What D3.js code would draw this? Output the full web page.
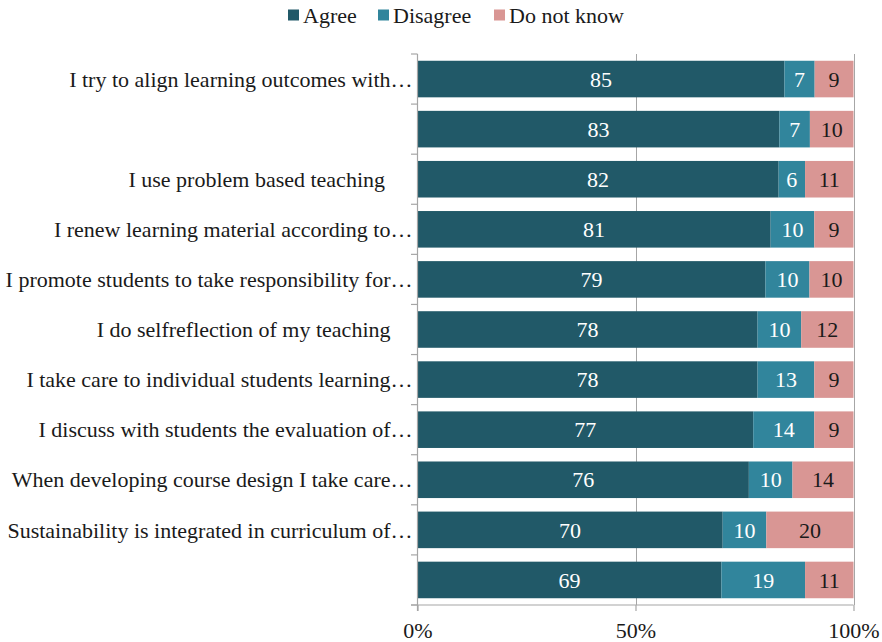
<!DOCTYPE html>
<html>
<head>
<meta charset="utf-8">
<script src="https://cdn.jsdelivr.net/npm/d3@7"></script>
<style>
  html, body { margin: 0; padding: 0; background: #fff; }
  svg { display: block; font-family: "Liberation Serif", "Times New Roman", serif; }
  .cat { white-space: pre; }
</style>
</head>
<body>
<svg id="chart" width="882" height="642"></svg>
<script>
// Survey statements (top to bottom); two rows carry no printed statement
const statements = [
  "I try to align learning outcomes with\u2026",
  "",
  "I use problem based teaching     ",
  "I renew learning material according to\u2026",
  "I promote students to take responsibility for\u2026",
  "I do selfreflection of my teaching    ",
  "I take care to individual students learning\u2026",
  "I discuss with students the evaluation of\u2026",
  "When developing course design I take care\u2026",
  "Sustainability is integrated in curriculum of\u2026",
  ""
];
const agree     = [85, 83, 82, 81, 79, 78, 78, 77, 76, 70, 69];
const disagree  = [ 7,  7,  6, 10, 10, 10, 13, 14, 10, 10, 19];
const dontKnow  = [ 9, 10, 11,  9, 10, 12,  9,  9, 14, 20, 11];
const seriesNames = ["Agree", "Disagree", "Do not know"];
const xTicks = [0, 0.5, 1];

const colors = ["#215968", "#31859c", "#d99694"];
const labelColors = ["#ffffff", "#ffffff", "#1a1a1a"];
const fontSize = 22;

const rows = statements.map((s, i) => ({
  idx: i, label: s,
  "Agree": agree[i], "Disagree": disagree[i], "Do not know": dontKnow[i]
}));

const svg = d3.select("#chart");
const plotLeft = 417.5, plotRight = 853.5, plotTop = 54, plotBottom = 605;

const x = d3.scaleLinear().domain([0, 1]).range([plotLeft, plotRight]);
const y = d3.scaleBand().domain(rows.map(d => d.idx)).range([plotTop, plotBottom])
  .paddingInner(0.27).paddingOuter(0.135);

const stacked = d3.stack().keys(seriesNames).offset(d3.stackOffsetExpand)(rows);

// vertical gridlines
svg.append("g").selectAll("line").data(xTicks.slice(1)).join("line")
  .attr("x1", d => Math.round(x(d)) + 0.5).attr("x2", d => Math.round(x(d)) + 0.5)
  .attr("y1", plotTop).attr("y2", plotBottom)
  .attr("stroke", "#a6a6a6").attr("stroke-width", 1);

// stacked bars
const layers = svg.append("g").selectAll("g").data(stacked).join("g")
  .attr("fill", (d, i) => colors[i]);
layers.selectAll("rect").data(d => d).join("rect")
  .attr("x", d => x(d[0]))
  .attr("width", d => x(d[1]) - x(d[0]))
  .attr("y", d => y(d.data.idx))
  .attr("height", y.bandwidth());

// value labels
stacked.forEach((layer, li) => {
  svg.append("g").selectAll("text").data(layer).join("text")
    .attr("x", d => (x(d[0]) + x(d[1])) / 2)
    .attr("y", d => y(d.data.idx) + y.bandwidth() / 2)
    .attr("dy", "0.35em")
    .attr("text-anchor", "middle")
    .attr("font-size", fontSize)
    .attr("fill", labelColors[li])
    .text(d => d.data[layer.key]);
});

// category axis: line with ticks at band boundaries
const gy = svg.append("g").attr("stroke", "#a6a6a6").attr("stroke-width", 1.2);
gy.append("line").attr("x1", plotLeft).attr("x2", plotLeft).attr("y1", plotTop).attr("y2", plotBottom + 6);
const step = y.step();
d3.range(rows.length + 1).forEach(i => {
  const yy = plotTop + i * step;
  gy.append("line").attr("x1", plotLeft - 6.5).attr("x2", plotLeft).attr("y1", yy).attr("y2", yy);
});
svg.append("g").selectAll("text").data(rows).join("text")
  .attr("class", "cat")
  .attr("x", plotLeft - 5)
  .attr("y", d => y(d.idx) + y.bandwidth() / 2)
  .attr("dy", "0.35em")
  .attr("text-anchor", "end")
  .attr("font-size", fontSize)
  .attr("fill", "#1a1a1a")
  .text(d => d.label);

// value axis
const xAxis = d3.axisBottom(x).tickValues(xTicks).tickFormat(d3.format(".0%"))
  .tickSize(6).tickSizeOuter(0);
const gx = svg.append("g").attr("transform", `translate(0,${plotBottom})`).call(xAxis);
gx.select(".domain").attr("stroke", "#a6a6a6").attr("stroke-width", 1.2)
  .attr("d", `M${plotLeft - 6.5},0H${plotRight}`);
gx.selectAll(".tick line").attr("stroke", "#a6a6a6").attr("stroke-width", 1.2);
gx.selectAll(".tick text").attr("font-size", fontSize).attr("font-family", "Liberation Serif, serif")
  .attr("fill", "#1a1a1a").attr("y", 17).attr("dy", "0.71em");

// legend
const legendItems = [
  { name: seriesNames[0], x: 288 },
  { name: seriesNames[1], x: 378 },
  { name: seriesNames[2], x: 494 }
];
const lg = svg.append("g");
legendItems.forEach((it, i) => {
  lg.append("rect").attr("x", it.x).attr("y", 9.5).attr("width", 11).attr("height", 11)
    .attr("fill", colors[i]);
  lg.append("text").attr("x", it.x + 15).attr("y", 22.5)
    .attr("font-size", fontSize).attr("fill", "#1a1a1a").text(it.name);
});
</script>
</body>
</html>
